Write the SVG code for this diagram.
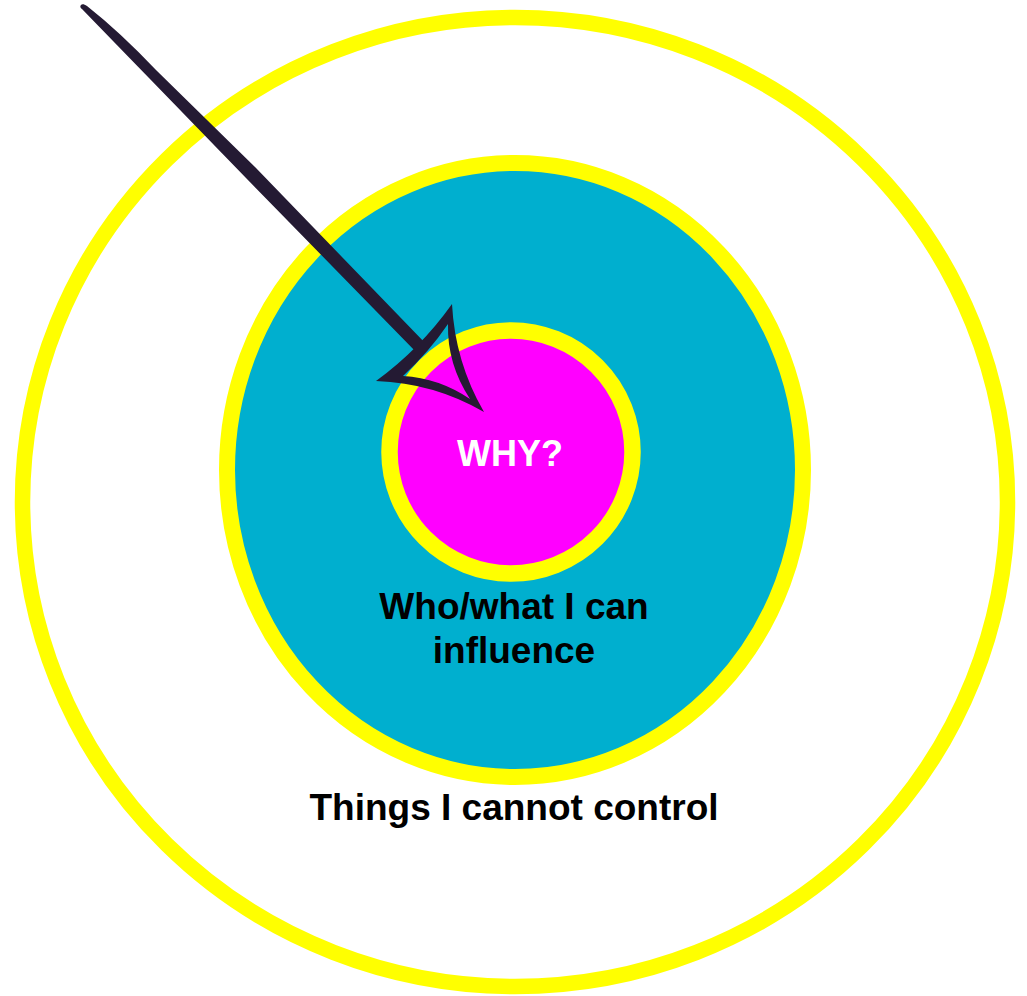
<svg xmlns="http://www.w3.org/2000/svg" width="1027" height="996" viewBox="0 0 1027 996">
  <style>
    .ring { stroke: #FFFF00; }
    .lbl { font-family: "Liberation Sans", Arial, sans-serif; font-weight: bold; text-anchor: middle; }
    .dark { fill: #000000; }
    .arrow { fill: #241A33; }
  </style>
  <rect x="0" y="0" width="1027" height="996" fill="#FFFFFF"/>
  <g id="outer">
    <ellipse class="ring" cx="515" cy="502" rx="492.5" ry="484.5" fill="#FFFFFF" stroke-width="15.5"/>
    <text class="lbl dark" x="514" y="820" font-size="37">Things I cannot control</text>
  </g>
  <g id="middle">
    <ellipse class="ring" cx="515" cy="470" rx="288" ry="307" fill="#00AFCF" stroke-width="16"/>
    <text class="lbl dark" x="514" y="619" font-size="37">Who/what I can</text>
    <text class="lbl dark" x="514" y="663" font-size="37">influence</text>
  </g>
  <g id="inner">
    <circle class="ring" cx="511" cy="452" r="121.5" fill="#FF00FF" stroke-width="16.5"/>
    <text class="lbl" x="510" y="466" font-size="36" fill="#FFFFFF">WHY?</text>
  </g>
  <g id="connectors">
    <path class="arrow" d="M 81 5 C 82 4 84 4 87 6 Q 120 32 156 70 L 256 168 L 428 346 L 418 354 L 246 178 L 149 78 Q 112 40 82 9 C 80 8 80 6 81 5 Z"/>
    <path class="arrow" fill-rule="evenodd" d="M 452 304 Q 455 362 484 412 Q 434 383 376 381 Q 420 349 452 304 Z M 448 324 Q 429 352 403 376 Q 439 378 470 399 Q 447 364 448 324 Z"/>
  </g>
</svg>
